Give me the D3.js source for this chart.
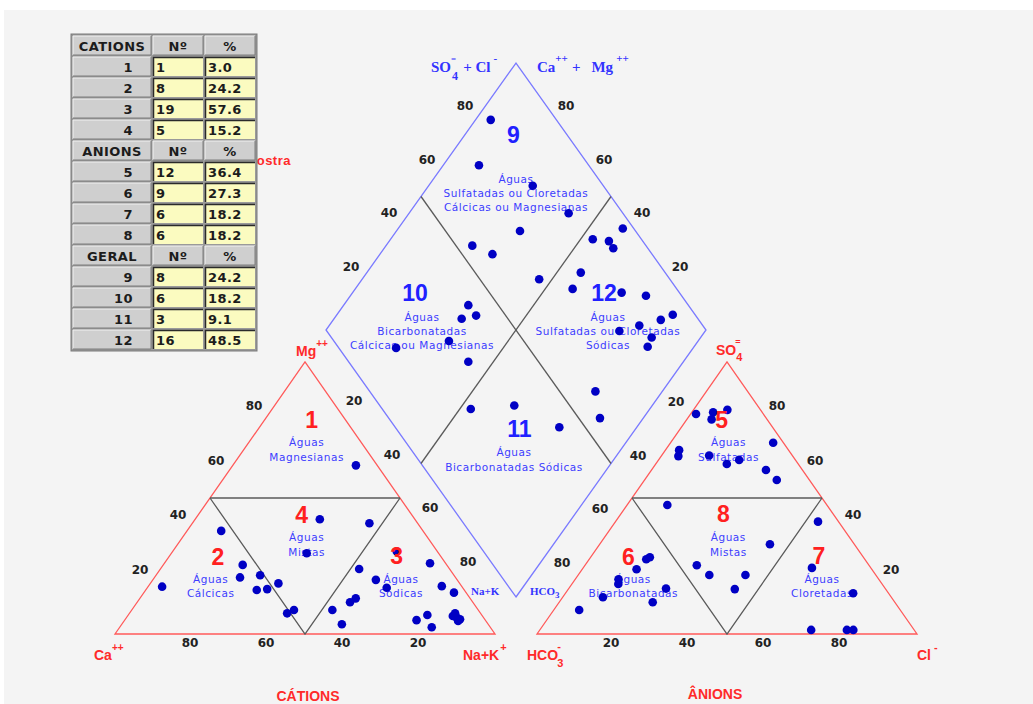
<!DOCTYPE html>
<html><head><meta charset="utf-8">
<script src="https://cdn.jsdelivr.net/npm/d3@7"></script>
<style>body{margin:0;background:#fff}svg{display:block}</style>
</head><body>
<svg id="chart" width="1033" height="704"></svg>
<script>
// ---- samples: cation triangle [Mg %, Na+K %] (Ca is the remainder)
const cations = [
  [62.0,32.4],
  [42.2,32.8],[40.7,46.6],[29.7,35.6],[18.6,33.7],[8.8,42.7],
  [37.9,9.0],[17.4,3.7],[25.4,20.9],[20.8,22.5],[21.6,27.4],[16.2,29.2],[16.5,31.8],[7.6,41.5],
  [30.3,59.0],[26.0,69.9],[23.9,52.3],[19.9,58.7],[17.0,63.0],[17.6,77.2],[15.2,81.6],[13.1,56.8],
  [11.7,56.0],[8.8,52.8],[3.6,57.9],[7.0,78.7],[5.1,76.8],[2.5,82.1],[7.6,85.7],[6.1,86.8],
  [5.4,88.1],[6.6,85.6],[4.8,87.9]
];
// ---- anion triangle [SO4 %, Cl %] (HCO3 is the remainder)
const anions = [
  [80.9,1.4],[81.5,5.6],[78.9,6.5],[82.4,8.9],[70.3,27.0],[67.6,3.6],[65.4,4.5],[65.6,12.5],
  [62.5,18.7],[64.0,21.2],[60.3,30.1],[56.6,34.8],
  [47.4,10.6],[33.0,44.8],[25.3,29.4],[21.7,34.5],[21.7,44.0],[16.5,43.8],
  [28.2,15.6],[27.5,15.0],[23.8,14.3],[20.1,11.4],[18.4,12.2],[16.7,25.6],[13.5,10.6],[11.7,24.6],[8.8,6.7],
  [41.3,53.3],[24.3,60.2],[15.0,75.7],[1.5,71.4],[1.5,80.8],[1.5,82.5]
];
// ---- diamond [SO4+Cl %, Ca+Mg %]
const diamond = [
  [82.7,96.0],[71.1,90.6],[81.4,72.6],[85.7,58.0],[69.6,67.5],[54.3,77.3],[58.0,70.4],[65.6,53.4],
  [87.2,46.8],[91.1,42.2],[90.9,39.7],[97.1,40.9],[77.8,43.7],[72.6,42.8],[84.8,29.2],[90.6,22.2],
  [94.1,11.6],[90.0,13.8],[83.3,18.4],[77.0,22.6],[84.3,12.9],[81.5,12.2],[59.4,17.6],[55.6,11.4],
  [42.1,67.2],[42.2,63.2],[37.8,66.4],[30.3,65.6],[15.1,78.2],[31.5,56.6],
  [23.3,47.1],[35.4,36.3],[43.2,20.4]
];
const tickValues = [20,40,60,80];

// ---- summary table
const cationTable = [["1","1","3.0"],["2","8","24.2"],["3","19","57.6"],["4","5","15.2"]];
const anionTable  = [["5","12","36.4"],["6","9","27.3"],["7","6","18.2"],["8","6","18.2"]];
const geralTable  = [["9","8","24.2"],["10","6","18.2"],["11","3","9.1"],["12","16","48.5"]];
const tableHeads  = ["CATIONS","ANIONS","GERAL"];

// ---- region names
const regionText = {
  1:["Águas","Magnesianas"], 2:["Águas","Cálcicas"], 3:["Águas","Sódicas"], 4:["Águas","Mistas"],
  5:["Águas","Sulfatadas"], 6:["Águas","Bicarbonatadas"], 7:["Águas","Cloretadas"], 8:["Águas","Mistas"],
  9:["Águas","Sulfatadas ou Cloretadas","Cálcicas ou Magnesianas"],
  10:["Águas","Bicarbonatadas","Cálcicas ou Magnesianas"],
  11:["Águas","Bicarbonatadas Sódicas"],
  12:["Águas","Sulfatadas ou Cloretadas","Sódicas"]
};

const svg = d3.select("#chart");
svg.append("rect").attr("x",4).attr("y",10).attr("width",1029).attr("height",694).attr("fill","#f4f4f4");

// ---- scales
const catX = d3.scaleLinear().domain([0,100]).range([115,495]);
const anX  = d3.scaleLinear().domain([0,100]).range([537,917]);
const triY = d3.scaleLinear().domain([0,100]).range([634,362]);
const dmX  = d3.scaleLinear().domain([-100,100]).range([326,706]);
const dmY  = d3.scaleLinear().domain([0,200]).range([597,63]);

const catPos = ([m,n]) => [catX(n + m/2), triY(m)];
const anPos  = ([s,c]) => [anX(c + s/2), triY(s)];
const dmPos  = ([u,v]) => [dmX(u - v), dmY(u + v)];

const lineGen = d3.line();
const RED = "#ff5a5a", BLUE = "#7a7aff", GREY = "#5a5a5a";

function path(pts, stroke, closed){
  svg.append("path").attr("d", lineGen(pts) + (closed ? "Z" : ""))
    .attr("fill","none").attr("stroke",stroke).attr("stroke-width",1.3);
}

// triangles (outline + sub-regions)
[catPos, anPos].forEach(P=>{
  path([P([0,0]),P([0,100]),P([100,0])], RED, true);
  path([P([50,0]),P([50,50])], GREY);
  path([P([50,0]),P([0,50]),P([50,50])], GREY);
});
// diamond
path([dmPos([0,0]),dmPos([100,0]),dmPos([100,100]),dmPos([0,100])], BLUE, true);
path([dmPos([50,100]),dmPos([50,0])], GREY);
path([dmPos([0,50]),dmPos([100,50])], GREY);

// ---- tick labels
const tickG = svg.append("g").attr("font-family","DejaVu Sans, sans-serif")
  .attr("font-weight","bold").attr("font-size",12).attr("fill","#222")
  .attr("text-anchor","middle").attr("dominant-baseline","central");
function ticks(posFn, dx, dy){
  tickValues.forEach(t=>{
    const [x,y] = posFn(t);
    tickG.append("text").attr("x",x+dx).attr("y",y+dy).text(t);
  });
}
ticks(t=>catPos([t,0]), -13, -10);          // Mg
ticks(t=>catPos([0,100-t]), -1, 9);         // Ca
ticks(t=>anPos([t,100-t]), 12, -10);        // SO4
ticks(t=>anPos([0,t]), -2, 9);              // Cl
ticks(t=>dmPos([t,100]), -13, -10);         // SO4+Cl
ticks(t=>dmPos([100,t]), 12, -10);          // Ca+Mg
ticks(t=>dmPos([0,100-t]), -10, 18);        // Na+K
ticks(t=>dmPos([100-t,0]), 8, 19);          // HCO3

// ---- region numbers and names
const numbers = [
  [1,311.7,420,"#ff2020"],[2,218,557,"#ff2020"],[3,396.7,556,"#ff2020"],[4,301.7,514.5,"#ff2020"],
  [5,721.7,420,"#ff2020"],[6,628.3,556.7,"#ff2020"],[7,819,556,"#ff2020"],[8,723.3,514,"#ff2020"],
  [9,513.3,135,"#2020ff"],[10,415,293.3,"#2020ff"],[11,519.3,429.3,"#2020ff"],[12,604,293.3,"#2020ff"]
];
const names = {
  1:[306.7,442.3], 2:[210.7,579], 3:[401,579], 4:[306.7,537.3],
  5:[728.5,442.3], 6:[633.3,579], 7:[822,579], 8:[728.3,537.3],
  9:[516,179], 10:[422,316.7], 11:[514,452.3], 12:[608,316.7]
};
const nameG = svg.append("g").attr("font-family","DejaVu Sans, sans-serif").attr("font-size",10.5)
  .attr("letter-spacing",0.55).attr("fill","#3d3dff").attr("text-anchor","middle").attr("dominant-baseline","central");
Object.entries(names).forEach(([k,[x,y]])=>{
  regionText[k].forEach((s,i)=>{
    nameG.append("text").attr("x",x).attr("y",y + i*14.2).text(s);
  });
});

// ---- points
const ptG = svg.append("g").attr("fill","#0000c4");
[[cations,catPos],[anions,anPos],[diamond,dmPos]].forEach(([data,P])=>{
  ptG.append("g").selectAll("circle").data(data).join("circle")
    .attr("cx",d=>P(d)[0]).attr("cy",d=>P(d)[1]).attr("r",4.3);
});

const numG = svg.append("g").attr("font-family","Liberation Sans, Arial, sans-serif")
  .attr("font-weight","bold").attr("font-size",23).attr("text-anchor","middle").attr("dominant-baseline","central");
numbers.forEach(([n,x,y,c])=>numG.append("text").attr("x",x).attr("y",y).attr("fill",c).text(n));

// ---- ion labels: base text followed by sub/superscript pieces [text, dx, dy, size]
const SANS = "Liberation Sans, Arial, sans-serif", SERIF = "Liberation Serif, Times New Roman, serif";
const RC = "#ff2a2a", BC = "#3333ff";
function ion(x, y, size, color, family, parts, anchor){
  const t = svg.append("text").attr("x",x).attr("y",y).attr("font-size",size).attr("fill",color)
    .attr("font-family",family).attr("font-weight","bold").attr("text-anchor",anchor||"start");
  parts.forEach(([s,dx,dy,fs])=>{
    t.append("tspan").attr("dx",dx||0).attr("dy",dy||0).attr("font-size",fs||size).text(s);
  });
  return t;
}
ion(296,356,14,RC,SANS,[["Mg"],["++",0,-9,10]]);
ion(94,660,14,RC,SANS,[["Ca"],["++",0,-9,10]]);
ion(463,660,14,RC,SANS,[["Na+K"],["+",1,-9,11]]);
ion(716,355,14,RC,SANS,[["SO"],["4",0,6,11],["=",-7,-16,9]]);
ion(527,660,14,RC,SANS,[["HCO"],["3",-1,7,11],["-",-6,-17,11]]);
ion(917,660,14,RC,SANS,[["Cl"],["-",3,-9,11]]);
ion(308,701,14,RC,SANS,[["CÁTIONS"]],"middle");
ion(715,699,14,RC,SANS,[["ÂNIONS"]],"middle");

ion(431,72,15,BC,SERIF,[["SO"],["4",1,8,12],["=",-7,-18,9],["+",7,10,15],[" Cl",0,0,15],["-",3,-10,11]]);
ion(537,72,15,BC,SERIF,[["Ca"],["++",0,-10,11],["+",4,10,15],["Mg",11,0,15],["++",3,-10,11]]);
ion(471,595,11,BC,SERIF,[["Na+K"]]);
ion(530,595,11,BC,SERIF,[["HCO"],["3",0,3,9]]);

// ---- partly hidden title behind the table
svg.append("text").attr("x",291).attr("y",165).attr("font-size",13).attr("letter-spacing",0.5)
  .attr("font-family",SANS).attr("font-weight","bold").attr("fill",RC).attr("text-anchor","end").text("Amostra");

// ---- table
const tG = svg.append("g");
const cols = [72,152,204,256], rowH = 21, tableTop = 35;
const rows = [];
[cationTable, anionTable, geralTable].forEach((tbl,i)=>{
  rows.push({head:true, cells:[tableHeads[i],"Nº","%"]});
  tbl.forEach(r=>rows.push({head:false, cells:r}));
});
tG.append("rect").attr("x",71).attr("y",tableTop-1).attr("width",186).attr("height",rows.length*rowH+2)
  .attr("fill","#9a9a9a").attr("stroke","#7a7a7a");
rows.forEach((r,i)=>{
  const y = tableTop + i*rowH;
  r.cells.forEach((c,j)=>{
    const x0 = cols[j], w = cols[j+1]-cols[j];
    const grey = r.head || j===0;
    tG.append("rect").attr("x",x0+1).attr("y",y+1).attr("width",w-2).attr("height",rowH-2)
      .attr("fill", grey ? "#cfcfcf" : "#fbfbc0");
    if(grey){
      tG.append("path").attr("d",`M${x0+1},${y+rowH-1}V${y+1}H${x0+w-1}`).attr("stroke","#f2f2f2").attr("fill","none");
      tG.append("path").attr("d",`M${x0+1},${y+rowH-1}H${x0+w-1}V${y+1}`).attr("stroke","#7c7c7c").attr("fill","none");
    } else {
      tG.append("path").attr("d",`M${x0+1.5},${y+rowH-1}V${y+1.5}H${x0+w-1}`).attr("stroke","#2a2a2a").attr("stroke-width",1.5).attr("fill","none");
    }
    let tx, anchor;
    if(r.head){ tx = j===0 ? 112 : x0 + w/2; anchor = "middle"; }
    else if(j===0){ tx = 133; anchor = "end"; }
    else { tx = x0 + 4; anchor = "start"; }
    tG.append("text").attr("x",tx).attr("y",y+rowH/2+0.5).attr("text-anchor",anchor)
      .attr("dominant-baseline","central").attr("font-family","DejaVu Sans, sans-serif")
      .attr("font-weight","bold").attr("font-size",13).attr("letter-spacing",0.4).attr("fill","#1c1c1c").text(c);
  });
});
</script>
</body></html>
